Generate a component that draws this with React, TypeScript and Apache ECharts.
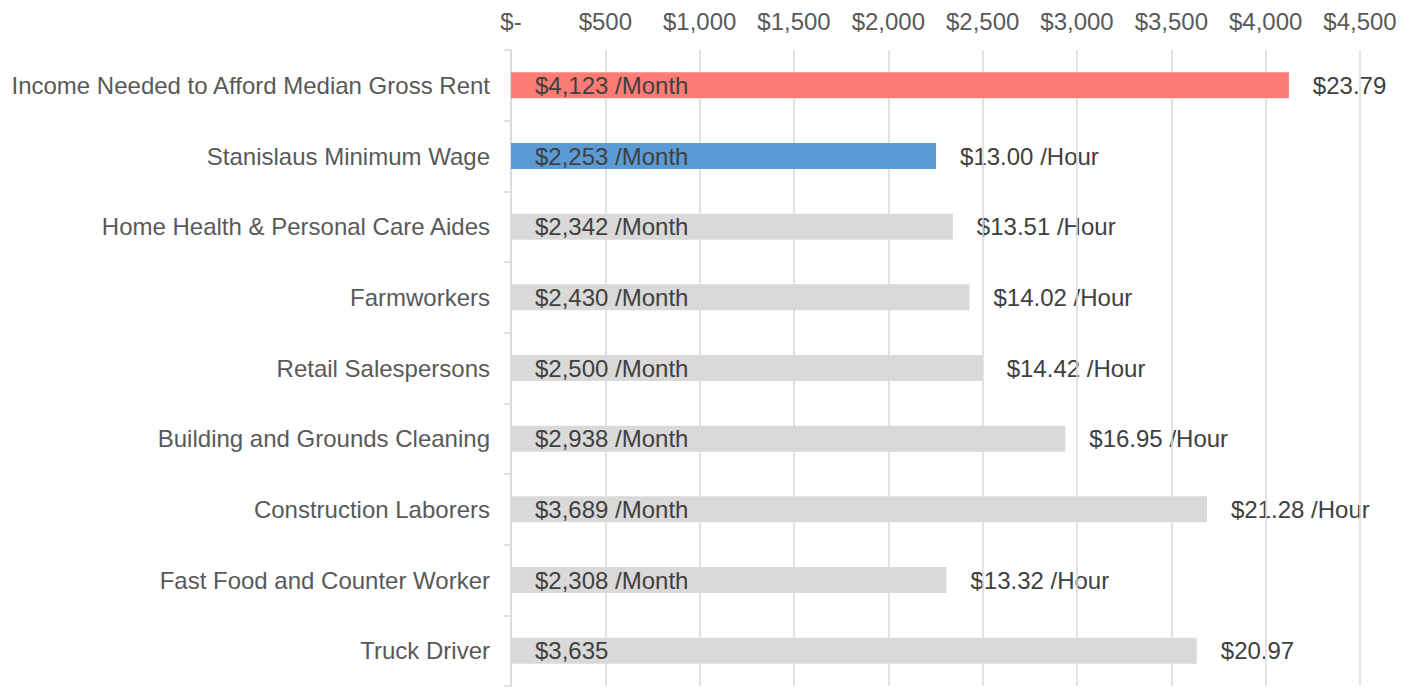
import React, { useEffect, useRef } from "react";
import * as echarts from "echarts";

const categories = [
  "Income Needed to Afford Median Gross Rent",
  "Stanislaus Minimum Wage",
  "Home Health & Personal Care Aides",
  "Farmworkers",
  "Retail Salespersons",
  "Building and Grounds Cleaning",
  "Construction Laborers",
  "Fast Food and Counter Worker",
  "Truck Driver",
];
const monthly = [4123, 2253, 2342, 2430, 2500, 2938, 3689, 2308, 3635];
const hourly = [23.79, 13.0, 13.51, 14.02, 14.42, 16.95, 21.28, 13.32, 20.97];
const monthSuffix = [" /Month", " /Month", " /Month", " /Month", " /Month", " /Month", " /Month", " /Month", ""];
const hourSuffix = ["", " /Hour", " /Hour", " /Hour", " /Hour", " /Hour", " /Hour", " /Hour", ""];
const barColors = ["#FF7C75", "#5B9BD5", "#D9D9D9", "#D9D9D9", "#D9D9D9", "#D9D9D9", "#D9D9D9", "#D9D9D9", "#D9D9D9"];

const FONT = "Liberation Sans";

export default function App() {
  const ref = useRef<HTMLDivElement>(null);
  useEffect(() => {
    document.body.style.margin = "0";
    const chart = echarts.init(ref.current!, null, { renderer: "svg" });
    chart.setOption({
      animation: false,
      textStyle: { fontFamily: FONT },
      grid: { left: 511, right: 53, top: 50, bottom: 1 },
      xAxis: {
        type: "value",
        position: "top",
        z: 1,
        min: 0,
        max: 4500,
        interval: 500,
        axisLine: { show: false },
        axisTick: { show: false },
        splitLine: { show: true, lineStyle: { color: "#D9D9D9", width: 1.5 } },
        axisLabel: {
          fontFamily: FONT,
          fontSize: 24,
          color: "#595959",
          margin: 17,
          formatter: (v: number) => (v === 0 ? "$-" : "$" + v.toLocaleString("en-US")),
        },
      },
      yAxis: {
        type: "category",
        inverse: true,
        data: categories,
        axisLine: { show: true, lineStyle: { color: "#D9D9D9", width: 1.5 } },
        axisTick: { show: true, length: 7, lineStyle: { color: "#D9D9D9", width: 1.5 } },
        axisLabel: { fontFamily: FONT, fontSize: 24, color: "#595959", margin: 21 },
      },
      series: [
        {
          type: "bar",
          z: 2,
          barWidth: 26,
          data: monthly.map((v, i) => ({ value: v, itemStyle: { color: barColors[i] } })),
          label: {
            show: true,
            position: "insideLeft",
            distance: 24,
            fontFamily: FONT,
            fontSize: 24,
            color: "#404040",
            formatter: (p: any) => "$" + monthly[p.dataIndex].toLocaleString("en-US") + monthSuffix[p.dataIndex],
          },
        },
        {
          type: "bar",
          z: 0,
          barWidth: 26,
          barGap: "-100%",
          silent: true,
          data: monthly.map((v) => ({ value: v, itemStyle: { color: "rgba(0,0,0,0)" } })),
          label: {
            show: true,
            position: "right",
            distance: 24,
            fontFamily: FONT,
            fontSize: 24,
            color: "#404040",
            formatter: (p: any) => "$" + hourly[p.dataIndex].toFixed(2) + hourSuffix[p.dataIndex],
          },
        },
      ],
    });
    return () => chart.dispose();
  }, []);
  return <div ref={ref} style={{ position: "absolute", left: 0, top: 0, width: 1413, height: 687 }} />;
}
